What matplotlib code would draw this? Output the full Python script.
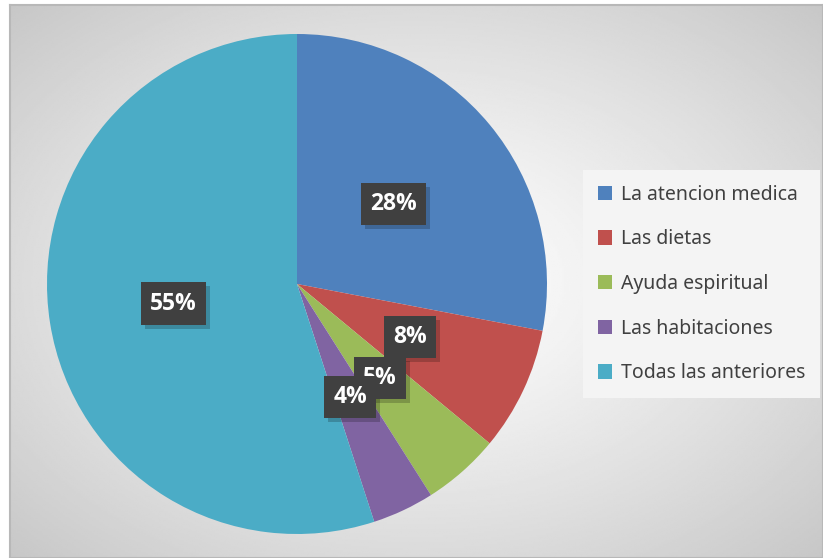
import numpy as np
import matplotlib
matplotlib.use('Agg')
import matplotlib.pyplot as plt
from matplotlib.patches import Rectangle
from matplotlib.transforms import IdentityTransform

# Data
labels = ['La atencion medica', 'Las dietas', 'Ayuda espiritual',
          'Las habitaciones', 'Todas las anteriores']
values = [28, 8, 5, 4, 55]
colors = ['#4F81BD', '#C0504D', '#9BBB59', '#8064A2', '#4BACC6']

W, H = 823, 558
fig = plt.figure(figsize=(W / 100, H / 100), dpi=100)
fig.patch.set_facecolor('white')

# Chart area background: radial grey gradient
bg = fig.add_axes([10 / W, 0, 1 - 10 / W, (H - 5) / H])
yy, xx = np.mgrid[0:1:300j, 0:1:450j]
dist = np.sqrt(((xx - 0.5) / 0.5) ** 2 + ((yy - 0.5) / 0.5) ** 2) / np.sqrt(2)
shade = 1.0 - 0.22 * dist ** 1.2
bg.imshow(shade, cmap='gray', vmin=0, vmax=1, aspect='auto', extent=[0, 1, 0, 1])
bg.set_xticks([])
bg.set_yticks([])
for s in bg.spines.values():
    s.set_color('#b8b8b8')
    s.set_linewidth(1.5)

# Pie axes: center (297, 284) px, radius 250 px
cx, cy, r = 297, 284, 250
ax = fig.add_axes([(cx - r) / W, (H - cy - r) / H, 2 * r / W, 2 * r / H])

wedges, texts, autotexts = ax.pie(values, colors=colors, startangle=90, counterclock=False,
                                  radius=1, autopct='%d%%', pctdistance=0.5,
                                  wedgeprops=dict(linewidth=0))
ax.set_xlim(-1, 1)
ax.set_ylim(-1, 1)
ax.axis('off')

for t in autotexts:
    t.set_fontfamily(['Open Sans', 'DejaVu Sans'])
    t.set_fontweight('bold')
    t.set_fontsize(16.5)
    t.set_color('white')
    t.set_bbox(dict(boxstyle='square,pad=0.4', facecolor='#404040', edgecolor='none'))

leg = fig.legend(wedges, labels, loc='upper left',
                 bbox_to_anchor=(583 / W, 1 - 170 / H),
                 frameon=True, fancybox=False, facecolor='#f4f4f4', edgecolor='none',
                 framealpha=1, handlelength=0.75, handleheight=0.75, handletextpad=0.45,
                 labelspacing=1.27, borderpad=0.75, borderaxespad=0,
                 prop={'family': 'Noto Sans', 'size': 14})
for txt in leg.get_texts():
    txt.set_color('#404040')

# drop shadows behind the data label boxes
fig.canvas.draw()
for t in autotexts:
    bb = t.get_bbox_patch().get_window_extent()
    ax.add_patch(Rectangle((bb.x0 + 4, bb.y0 - 4), bb.width, bb.height,
                           transform=IdentityTransform(), facecolor='black',
                           alpha=0.2, edgecolor='none', zorder=t.get_zorder() - 0.5,
                           clip_on=False))

fig.savefig('out.png', dpi=100)
